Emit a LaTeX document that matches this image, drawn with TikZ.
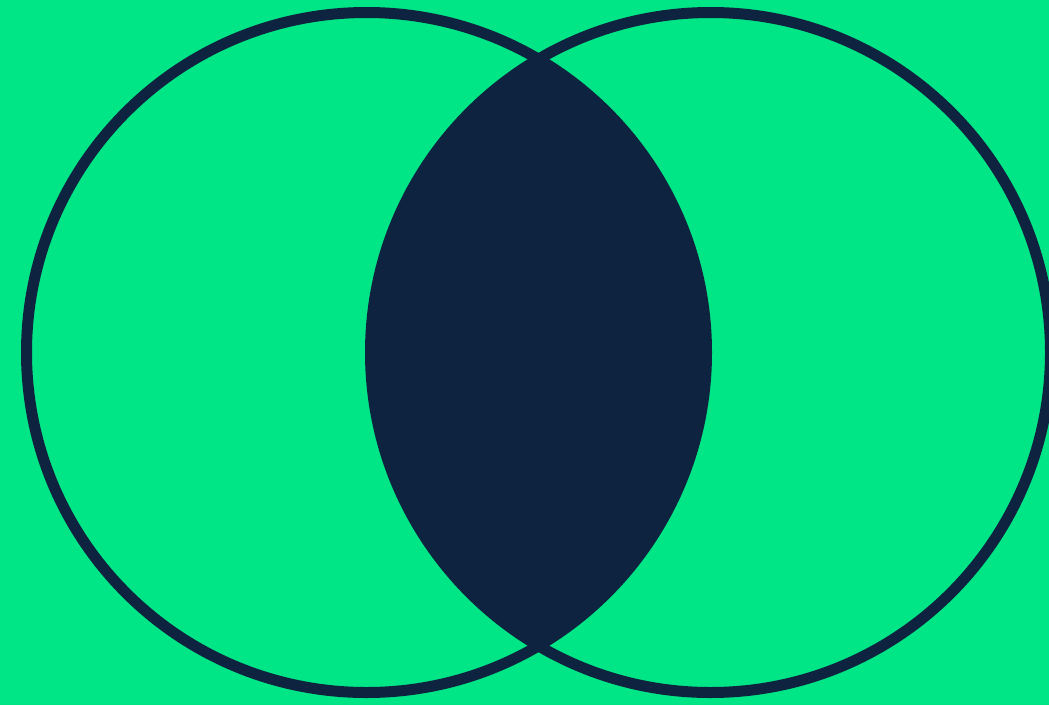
\documentclass[tikz,border=0pt]{standalone}
\definecolor{bggreen}{RGB}{0,230,134}
\definecolor{navy}{RGB}{14,35,64}

\begin{document}
\begin{tikzpicture}[x=1pt,y=-1pt,
  ring/.style={draw=navy,line width=11pt},
  lens/.style={fill=navy}]
% ---- background ----
\fill[bggreen] (0,0) rectangle (1049,705);
\useasboundingbox (0,0) rectangle (1049,705);
\coordinate (cl) at (366.5,352.5);
\coordinate (cr) at (710.5,352.5);
% ---- shared part of the two sets ----
\begin{scope}
  \clip (cl) circle[radius=340];
  \fill[lens] (cr) circle[radius=340];
\end{scope}
% ---- the two rings ----
\draw[ring] (cl) circle[radius=340];
\draw[ring] (cr) circle[radius=340];
\end{tikzpicture}
\end{document}
